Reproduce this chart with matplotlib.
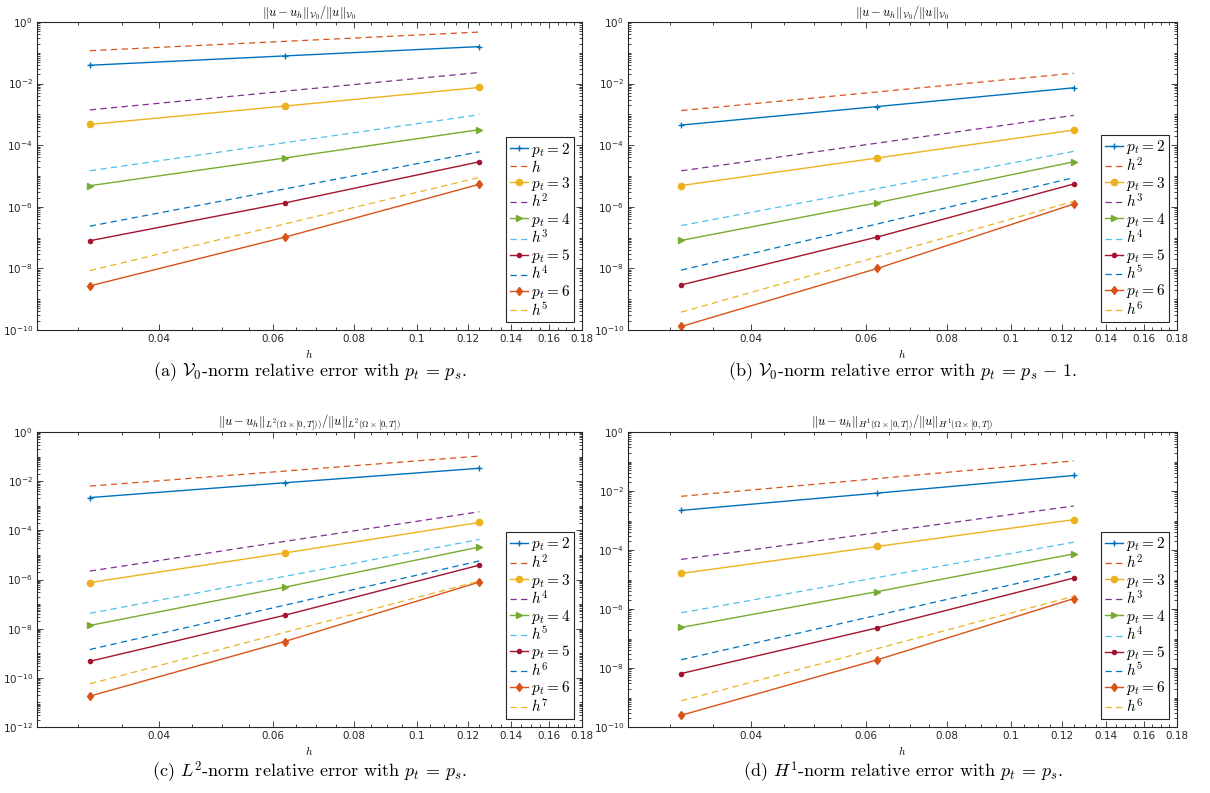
import numpy as np
import matplotlib
matplotlib.use('Agg')
import matplotlib.pyplot as plt
from matplotlib.ticker import FixedLocator, NullFormatter, LogFormatterSciNotation

plt.rcParams['mathtext.fontset'] = 'cm'
plt.rcParams['font.family'] = ['DejaVu Sans']
plt.rcParams['axes.formatter.use_mathtext'] = True

# mesh sizes
h_vals = [0.03125, 0.0625, 0.125]
h_ends = [0.03125, 0.125]

# (a) V0-norm, p_t = p_s
a_err = [
    [0.0394, 0.0792, 0.159],
    [4.72e-4, 1.86e-3, 7.5e-3],
    [4.84e-6, 3.84e-5, 3.2e-4],
    [7.9e-8, 1.33e-6, 2.9e-5],
    [2.7e-9, 1.03e-7, 5.4e-6],
]
a_ref = [
    [0.117, 0.472],
    [1.40e-3, 0.0229],
    [1.48e-5, 9.77e-4],
    [2.35e-7, 6.1e-5],
    [8.5e-9, 9.0e-6],
]
a_ref_labels = ['$h$', '$h^2$', '$h^3$', '$h^4$', '$h^5$']

# (b) V0-norm, p_t = p_s - 1
b_err = [
    [4.5e-4, 1.8e-3, 7.3e-3],
    [4.9e-6, 3.85e-5, 3.1e-4],
    [8.1e-8, 1.36e-6, 2.9e-5],
    [2.9e-9, 1.05e-7, 5.5e-6],
    [1.3e-10, 1.0e-8, 1.23e-6],
]
b_ref = [
    [1.33e-3, 0.0217],
    [1.47e-5, 9.3e-4],
    [2.46e-7, 6.3e-5],
    [8.8e-9, 8.8e-6],
    [3.8e-10, 1.5e-6],
]
b_ref_labels = ['$h^2$', '$h^3$', '$h^4$', '$h^5$', '$h^6$']

# (c) L2-norm
c_err = [
    [2.15e-3, 8.6e-3, 0.0335],
    [7.5e-7, 1.2e-5, 2.1e-4],
    [1.35e-8, 4.85e-7, 2.1e-5],
    [4.7e-10, 3.5e-8, 3.85e-6],
    [1.8e-11, 3.0e-9, 7.9e-7],
]
c_ref = [
    [6.3e-3, 0.105],
    [2.2e-6, 5.7e-4],
    [4.2e-8, 4.27e-5],
    [1.42e-9, 5.7e-6],
    [5.7e-11, 8.7e-7],
]
c_ref_labels = ['$h^2$', '$h^4$', '$h^5$', '$h^6$', '$h^7$']

# (d) H1-norm
d_err = [
    [2.2e-3, 8.5e-3, 0.0336],
    [1.6e-5, 1.32e-4, 1.07e-3],
    [2.37e-7, 3.9e-6, 7.4e-5],
    [6.5e-9, 2.3e-7, 1.12e-5],
    [2.5e-10, 1.9e-8, 2.25e-6],
]
d_ref = [
    [6.6e-3, 0.105],
    [4.8e-5, 3.1e-3],
    [7.4e-7, 1.84e-4],
    [1.9e-8, 2.0e-5],
    [7.7e-10, 2.7e-6],
]
d_ref_labels = ['$h^2$', '$h^3$', '$h^4$', '$h^5$', '$h^6$']

pt_labels = ['$p_t = 2$', '$p_t = 3$', '$p_t = 4$', '$p_t = 5$', '$p_t = 6$']
err_colors = ['#0072BD', '#EDB120', '#77AC30', '#A2142F', '#D95319']
err_markers = ['+', 'o', '>', '.', 'd']
err_msizes = [5, 4.5, 4.5, 6, 4.5]
ref_colors = ['#D95319', '#7E2F8E', '#4DBEEE', '#0072BD', '#EDB120']

titles = [
    r'$\|u-u_h\|_{\mathcal{V}_0}/\|u\|_{\mathcal{V}_0}$',
    r'$\|u-u_h\|_{\mathcal{V}_0}/\|u\|_{\mathcal{V}_0}$',
    r'$\|u-u_h\|_{L^2(\Omega\times[0,T]))}/\|u\|_{L^2(\Omega\times[0,T])}$',
    r'$\|u-u_h\|_{H^1(\Omega\times[0,T])}/\|u\|_{H^1(\Omega\times[0,T])}$',
]
captions = [
    r'(a) $\mathcal{V}_0$-norm relative error with $p_t\,=\,p_s$.',
    r'(b) $\mathcal{V}_0$-norm relative error with $p_t\,=\,p_s\,-\,1$.',
    r'(c) $L^2$-norm relative error with $p_t\,=\,p_s$.',
    r'(d) $H^1$-norm relative error with $p_t\,=\,p_s$.',
]
ylows = [1e-10, 1e-10, 1e-12, 1e-10]

fig = plt.figure(figsize=(12.1, 7.93), dpi=100)

W, H = 1210.0, 793.0
# axes boxes in pixels: left, top, right, bottom
boxes = [(37, 22, 582, 330), (628, 22, 1177, 330),
         (37, 432, 582, 727), (628, 432, 1177, 727)]
cap_y = [372, 372, 772, 772]

all_err = [a_err, b_err, c_err, d_err]
all_ref = [a_ref, b_ref, c_ref, d_ref]
all_ref_labels = [a_ref_labels, b_ref_labels, c_ref_labels, d_ref_labels]

xmajor = [0.04, 0.06, 0.08, 0.1, 0.12, 0.14, 0.16, 0.18]
xmajor_labels = ['0.04', '0.06', '0.08', '0.1', '0.12', '0.14', '0.16', '0.18']
xminor = [0.03, 0.035, 0.045, 0.05, 0.055, 0.065, 0.07, 0.075, 0.085, 0.09,
          0.095, 0.105, 0.11, 0.115, 0.125, 0.13, 0.135, 0.145, 0.15, 0.155,
          0.165, 0.17, 0.175]

for k in range(4):
    l, t, r, b = boxes[k]
    ax = fig.add_axes([l / W, 1 - b / H, (r - l) / W, (b - t) / H])
    ax.set_xscale('log')
    ax.set_yscale('log')

    for i in range(5):
        ax.plot(h_vals, all_err[k][i], color=err_colors[i], lw=1.0,
                marker=err_markers[i], ms=err_msizes[i], mew=1.0,
                mfc=err_colors[i], label=pt_labels[i])
        ax.plot(h_ends, all_ref[k][i], color=ref_colors[i], lw=0.9,
                ls=(0, (5, 3.5)), label=all_ref_labels[k][i])

    ax.set_xlim(0.0259, 0.18)
    ax.set_ylim(ylows[k], 1)

    ax.xaxis.set_major_locator(FixedLocator(xmajor))
    ax.set_xticklabels(xmajor_labels)
    ax.xaxis.set_minor_locator(FixedLocator(xminor))
    ax.xaxis.set_minor_formatter(NullFormatter())

    ndec = int(round(-np.log10(ylows[k])))
    ax.yaxis.set_major_locator(FixedLocator([10.0 ** (-e) for e in range(0, ndec + 1, 2)]))
    ax.yaxis.set_major_formatter(LogFormatterSciNotation())
    yminor = [m * 10.0 ** (-e) for e in range(1, ndec + 1) for m in range(1, 10)
              if not (m == 1 and e % 2 == 0)]
    ax.yaxis.set_minor_locator(FixedLocator(yminor))
    ax.yaxis.set_minor_formatter(NullFormatter())

    ax.tick_params(which='both', direction='in', top=True, right=True,
                   labelsize=7.5, color='#262626', labelcolor='#262626', width=0.6)
    ax.tick_params(which='major', length=4.5, pad=3)
    ax.tick_params(which='minor', length=2.5)
    for s in ax.spines.values():
        s.set_color('#262626')
        s.set_linewidth(0.8)

    ax.set_xlabel('$h$', fontsize=8, labelpad=2)
    ax.set_title(titles[k], fontsize=9, pad=3)

    leg = ax.legend(loc='lower right', fontsize=11, frameon=True, fancybox=False,
                    framealpha=1, edgecolor='#262626', borderaxespad=0.5,
                    handlelength=1.2, handletextpad=0.2, labelspacing=0.0,
                    borderpad=0.25)
    leg.get_frame().set_linewidth(0.8)

    fig.text((l + r) / 2 / W, 1 - cap_y[k] / H, captions[k], ha='center', va='center',
             fontsize=13, family='cmr10')

fig.savefig('out.png', dpi=100)
